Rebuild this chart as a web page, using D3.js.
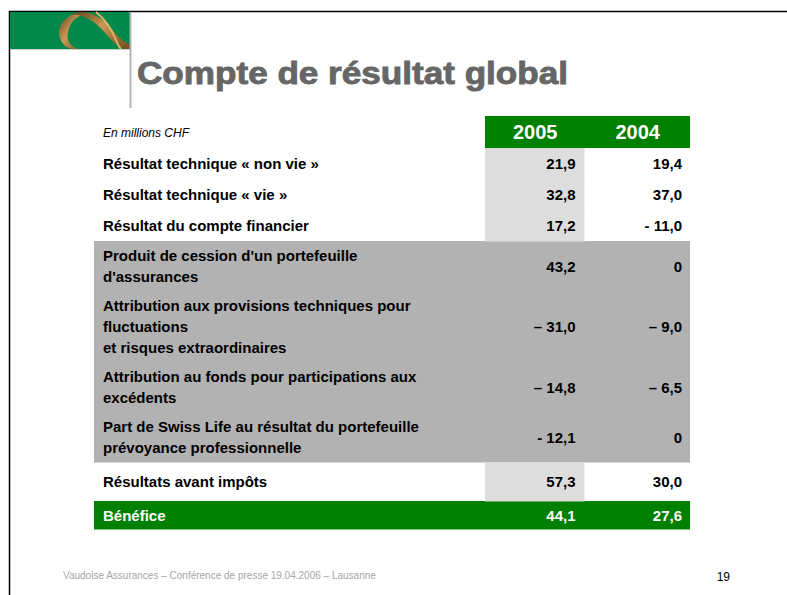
<!DOCTYPE html>
<html>
<head>
<meta charset="utf-8">
<script src="https://cdn.jsdelivr.net/npm/d3@7"></script>
<style>
  body { margin: 0; background: #fff; }
  svg { display: block; font-family: "Liberation Sans", Arial, sans-serif; }
</style>
</head>
<body>
<div id="viz"></div>
<script>
// table content
const years = ['2005', '2004'];
const labels = [
  'Résultat technique « non vie »',
  'Résultat technique « vie »',
  'Résultat du compte financier',
  "Produit de cession d'un portefeuille\nd'assurances",
  'Attribution aux provisions techniques pour\nfluctuations\net risques extraordinaires',
  'Attribution au fonds pour participations aux\nexcédents',
  'Part de Swiss Life au résultat du portefeuille\nprévoyance professionnelle',
  'Résultats avant impôts',
  'Bénéfice'
];
const values2005 = ['21,9', '32,8', '17,2', '43,2', '– 31,0', '– 14,8', '- 12,1', '57,3', '44,1'];
const values2004 = ['19,4', '37,0', '- 11,0', '0', '– 9,0', '– 6,5', '0', '30,0', '27,6'];
const rowKind = ['plain', 'plain', 'plain', 'special', 'special', 'special', 'special', 'plain', 'total'];
const title = 'Compte de résultat global';
const unitNote = 'En millions CHF';
const footer = 'Vaudoise Assurances – Conférence de presse 19.04.2006 – Lausanne';
const pageNo = '19';

const width = 787;
const height = 595;
const tableLeft = 94;
const tableRight = 690;
const headerTop = 116;
const headerBottom = 148;
const lineStep = 21;

const svg = d3.select('#viz').append('svg')
  .attr('width', width)
  .attr('height', height);

svg.append('rect').attr('width', width).attr('height', height).attr('fill', '#fff');

// slide frame
svg.append('path')
  .attr('d', `M9.5,${height} V11.5 H${width}`)
  .attr('fill', 'none')
  .attr('stroke', '#000')
  .attr('stroke-width', 1.5);

// logo
const grad = svg.append('defs').append('linearGradient')
  .attr('id', 'gold').attr('x1', 0).attr('x2', 1).attr('y1', 0).attr('y2', 1);
grad.append('stop').attr('offset', '0%').attr('stop-color', '#5a3c18');
grad.append('stop').attr('offset', '45%').attr('stop-color', '#c79a55');
grad.append('stop').attr('offset', '100%').attr('stop-color', '#6e4a1f');

const logo = svg.append('g');
logo.append('rect')
  .attr('x', 10).attr('y', 12).attr('width', 120).attr('height', 37)
  .attr('fill', '#00894a');
logo.append('line')
  .attr('x1', 10).attr('x2', 130).attr('y1', 49.5).attr('y2', 49.5)
  .attr('stroke', '#cfcfcf').attr('stroke-width', 1);
logo.append('path')
  .attr('d', 'M82,12 C66,14 56,26 60,38 C62,45 67,48 72,49 L78,49 C70,46 66,40 68,32 C70,22 76,16 86,14 Z')
  .attr('fill', 'url(#gold)');
logo.append('path')
  .attr('d', 'M70,14 C86,14 98,24 106,34 C112,41 118,47 124,49 L130,49 L130,44 C122,42 116,34 110,27 C102,18 92,12 80,12 Z')
  .attr('fill', 'url(#gold)');
logo.append('path')
  .attr('d', 'M96,12 C106,20 112,30 116,40 C118,45 120,48 121,49')
  .attr('fill', 'none')
  .attr('stroke', '#d8b56a')
  .attr('stroke-width', 2);
svg.append('line')
  .attr('x1', 130.5).attr('x2', 130.5).attr('y1', 12).attr('y2', 108)
  .attr('stroke', '#b5b5b5').attr('stroke-width', 2);

// title
svg.append('text')
  .attr('x', 137).attr('y', 84)
  .attr('font-size', 32)
  .attr('font-weight', 'bold')
  .attr('fill', '#666')
  .attr('stroke', '#666')
  .attr('stroke-width', 0.9)
  .attr('textLength', 431)
  .attr('lengthAdjust', 'spacingAndGlyphs')
  .text(title);

// row geometry from number of lines
const rowLines = labels.map((l) => l.split('\n').length);
const last = labels.length - 1;
const rowHeights = rowLines.map((n, i) => {
  if (i === last) return 28;
  if (i === last - 1) return 39;
  return n === 1 ? 31 : n * lineStep + 8;
});
const rowTops = rowHeights.map((h, i) => headerBottom + d3.sum(rowHeights.slice(0, i)));

const x = d3.scaleBand()
  .domain(years)
  .range([485, tableRight]);

const rows = labels.map((label, i) => ({
  label,
  lines: label.split('\n'),
  kind: rowKind[i],
  top: rowTops[i],
  h: rowHeights[i],
  vals: [values2005[i], values2004[i]]
}));

// backgrounds
const bg = svg.append('g');
bg.selectAll('rect.full').data(rows.filter((r) => r.kind !== 'plain'))
  .enter().append('rect')
    .attr('class', 'full')
    .attr('x', tableLeft)
    .attr('y', (d) => d.top)
    .attr('width', tableRight - tableLeft)
    .attr('height', (d) => d.h + 0.5)
    .attr('fill', (d) => d.kind === 'total' ? '#008000' : '#b2b2b2');
bg.selectAll('rect.col').data(rows.filter((r) => r.kind === 'plain'))
  .enter().append('rect')
    .attr('class', 'col')
    .attr('x', x('2005'))
    .attr('y', (d) => d.top)
    .attr('width', x.bandwidth() - 3)
    .attr('height', (d) => d.h + 0.5)
    .attr('fill', '#dddddd');

// header
svg.append('rect')
  .attr('x', x('2005')).attr('y', headerTop)
  .attr('width', tableRight - x('2005')).attr('height', headerBottom - headerTop)
  .attr('fill', '#008000');
svg.append('g').selectAll('text').data(years)
  .enter().append('text')
    .attr('x', (d) => x(d) + x.bandwidth() / 2 - 1)
    .attr('y', 139)
    .attr('text-anchor', 'middle')
    .attr('font-size', 20)
    .attr('font-weight', 'bold')
    .attr('fill', '#fff')
    .text((d) => d);
svg.append('text')
  .attr('x', 103).attr('y', 137)
  .attr('font-size', 12)
  .attr('font-style', 'italic')
  .attr('fill', '#000')
  .text(unitNote);

// row labels and values
const rowG = svg.append('g').selectAll('g').data(rows)
  .enter().append('g')
    .attr('font-size', 15)
    .attr('font-weight', 'bold')
    .attr('fill', (d) => d.kind === 'total' ? '#fff' : '#000');

rowG.selectAll('text.label').data((d) => d.lines.map((t, j) => ({ t, j, r: d })))
  .enter().append('text')
    .attr('class', 'label')
    .attr('x', 103)
    .attr('y', (d) => d.r.top + d.r.h / 2 - (d.r.lines.length - 1) * lineStep / 2 + d.j * lineStep + 5.5)
    .text((d) => d.t);

rowG.selectAll('text.val').data((d) => d.vals.map((v, j) => ({ v, year: years[j], r: d })))
  .enter().append('text')
    .attr('class', 'val')
    .attr('x', (d) => x(d.year) + x.bandwidth() - (d.year === '2005' ? 12 : 8))
    .attr('y', (d) => d.r.top + d.r.h / 2 + 5.5)
    .attr('text-anchor', 'end')
    .text((d) => d.v);

// footer
svg.append('text')
  .attr('x', 63).attr('y', 579)
  .attr('font-size', 10)
  .attr('fill', '#a6a6a6')
  .text(footer);
svg.append('text')
  .attr('x', 730).attr('y', 581)
  .attr('text-anchor', 'end')
  .attr('font-size', 12)
  .attr('fill', '#000')
  .text(pageNo);
</script>
</body>
</html>
